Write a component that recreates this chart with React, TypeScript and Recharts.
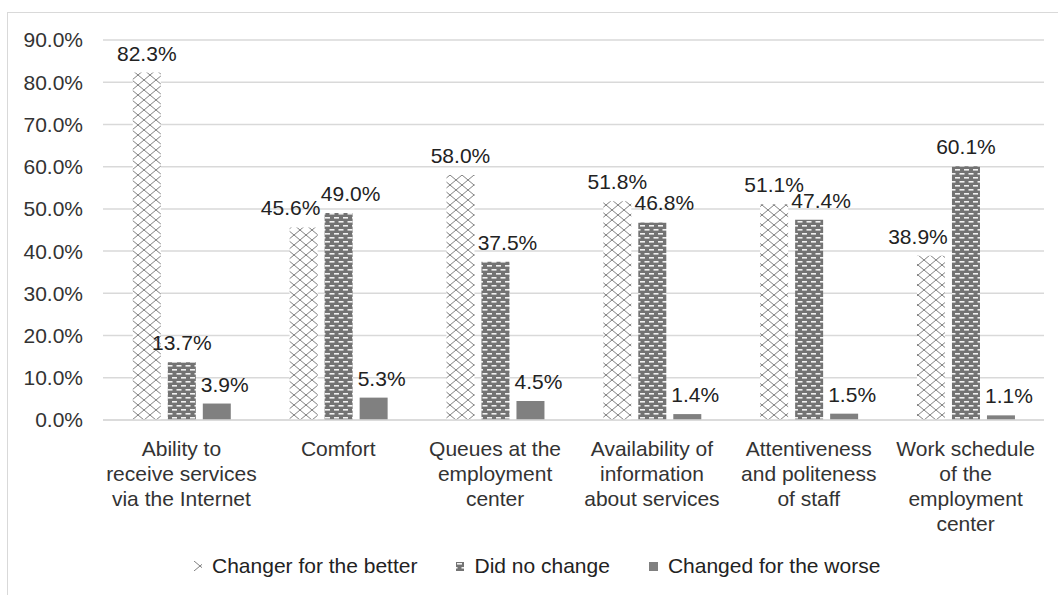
import { BarChart, Bar, XAxis, YAxis, CartesianGrid, LabelList } from "recharts";

const categories = [
  "Ability to\nreceive services\nvia the Internet",
  "Comfort",
  "Queues at the\nemployment\ncenter",
  "Availability of\ninformation\nabout services",
  "Attentiveness\nand politeness\nof staff",
  "Work schedule\nof the\nemployment\ncenter",
];
const better = [82.3, 45.6, 58.0, 51.8, 51.1, 38.9];
const noChange = [13.7, 49.0, 37.5, 46.8, 47.4, 60.1];
const worse = [3.9, 5.3, 4.5, 1.4, 1.5, 1.1];
const yTicks = [0, 10, 20, 30, 40, 50, 60, 70, 80, 90];

const data = categories.map((name, i) => ({
  name,
  better: better[i],
  noChange: noChange[i],
  worse: worse[i],
}));

const font = '"Liberation Sans", Arial, sans-serif';
const gridColor = "#d9d9d9";
const textColor = "#333";

// nudge labels sideways where Excel moved them off each other
function labelShift(key: string, i: number) {
  if (key === "better") return noChange[i] > better[i] ? -13 : 0;
  if (key === "noChange") {
    if (noChange[i] > better[i] + 15) return 0;
    if (better[i] - noChange[i] > 40) return 0;
    return 12;
  }
  return 8;
}

const makeLabel = (key: string) => (props: any) => {
  const { x, y, width, value, index } = props;
  return (
    <text
      x={Number(x) + Number(width) / 2 + labelShift(key, index)}
      y={Number(y) - 12}
      textAnchor="middle"
      fontSize={21}
      fontFamily={font}
      fill="#222"
    >
      {`${Number(value).toFixed(1)}%`}
    </text>
  );
};

function CategoryTick({ x, y, payload }: any) {
  const lines = String(payload.value).split("\n");
  return (
    <g>
      {lines.map((line, i) => (
        <text
          key={i}
          x={x}
          y={y + 34 + i * 25}
          textAnchor="middle"
          fontSize={21}
          fontFamily={font}
          fill={textColor}
        >
          {line}
        </text>
      ))}
    </g>
  );
}

function Patterns() {
  return (
    <svg width={0} height={0} style={{ position: "absolute" }}>
      <defs>
        <pattern id="patBetter" width={12} height={10} patternUnits="userSpaceOnUse">
          <rect width={12} height={10} fill="#fff" />
          <path d="M0,0 L12,10 M12,0 L0,10" stroke="#808080" strokeWidth={1} />
        </pattern>
        <pattern id="patNoChange" width={9} height={8} patternUnits="userSpaceOnUse">
          <rect width={9} height={8} fill="#737373" />
          <rect x={1} y={1} width={5} height={1.6} fill="#f2f2f2" />
          <rect x={5.5} y={5} width={3.5} height={1.6} fill="#f2f2f2" />
          <rect x={0} y={5} width={1.5} height={1.6} fill="#f2f2f2" />
        </pattern>
      </defs>
    </svg>
  );
}

const legendItems = [
  { label: "Changer for the better", fill: "url(#patBetter)", w: 8, h: 10 },
  { label: "Did no change", fill: "url(#patNoChange)", w: 8, h: 9 },
  { label: "Changed for the worse", fill: "#808080", w: 9, h: 9 },
];

export default function App() {
  return (
    <div
      style={{
        position: "absolute",
        left: 0,
        top: 0,
        width: 1058,
        height: 595,
        overflow: "hidden",
        background: "#fff",
        fontFamily: font,
      }}
    >
      <Patterns />
      <div
        style={{
          position: "absolute",
          left: 7,
          top: 12,
          width: 1060,
          height: 600,
          border: `1px solid ${gridColor}`,
          boxSizing: "border-box",
        }}
      />
      <div style={{ position: "absolute", left: 0, top: 0 }}>
        <BarChart
          width={1058}
          height={595}
          data={data}
          margin={{ top: 40, right: 14, bottom: 0, left: 0 }}
          barCategoryGap="19%"
          barGap={7}
        >
          <CartesianGrid vertical={false} stroke={gridColor} strokeWidth={1.5} />
          <XAxis
            dataKey="name"
            height={175}
            interval={0}
            tickLine={false}
            tickSize={0}
            axisLine={{ stroke: gridColor, strokeWidth: 1.5 }}
            tick={<CategoryTick />}
          />
          <YAxis
            width={103}
            domain={[0, 90]}
            ticks={yTicks}
            axisLine={false}
            tickLine={false}
            tickSize={0}
            tickMargin={20}
            tickFormatter={(v: number) => `${v.toFixed(1)}%`}
            tick={{ fill: textColor, fontSize: 21, fontFamily: font }}
          />
          <Bar dataKey="better" fill="url(#patBetter)" isAnimationActive={false}>
            <LabelList dataKey="better" content={makeLabel("better")} />
          </Bar>
          <Bar dataKey="noChange" fill="url(#patNoChange)" isAnimationActive={false}>
            <LabelList dataKey="noChange" content={makeLabel("noChange")} />
          </Bar>
          <Bar dataKey="worse" fill="#808080" isAnimationActive={false}>
            <LabelList dataKey="worse" content={makeLabel("worse")} />
          </Bar>
        </BarChart>
      </div>
      <div
        style={{
          position: "absolute",
          left: 194,
          top: 554,
          display: "flex",
          alignItems: "center",
          gap: 39,
          fontSize: 21,
          color: "#222",
          whiteSpace: "nowrap",
        }}
      >
        {legendItems.map((it) => (
          <div key={it.label} style={{ display: "flex", alignItems: "center", gap: 10 }}>
            <svg width={it.w} height={it.h}>
              <rect width={it.w} height={it.h} fill={it.fill} />
            </svg>
            <span>{it.label}</span>
          </div>
        ))}
      </div>
    </div>
  );
}
